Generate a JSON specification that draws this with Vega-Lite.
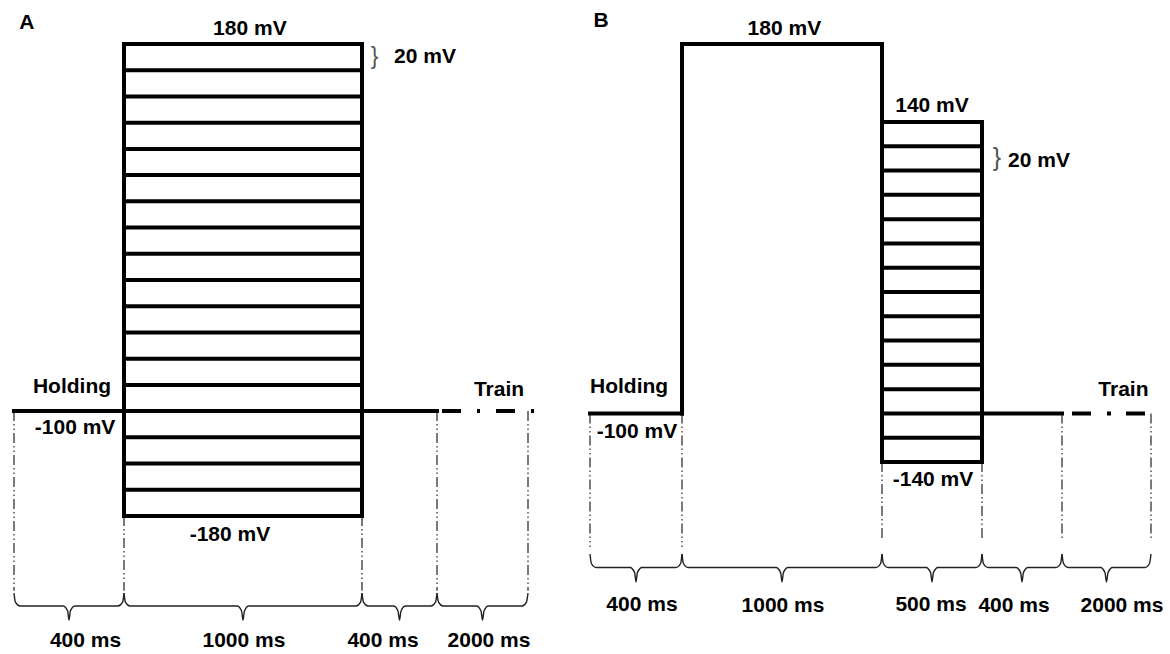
{
  "$schema": "https://vega.github.io/schema/vega-lite/v6.json",
  "padding": 0,
  "spacing": 0,
  "bounds": "flush",
  "background": "white",
  "config": {"view": {"stroke": null}},
  "datasets": {
    "A_solid": [
      {"t": 0, "t2": 400, "v": -100, "v2": -100},
      {"t": 1400, "t2": 1800, "v": -100, "v2": -100},
      {"t": 400, "t2": 400, "v": -180, "v2": 180},
      {"t": 1400, "t2": 1400, "v": -180, "v2": 180},
      {"t": 400, "t2": 1400, "v": 180, "v2": 180},
      {"t": 400, "t2": 1400, "v": 160, "v2": 160},
      {"t": 400, "t2": 1400, "v": 140, "v2": 140},
      {"t": 400, "t2": 1400, "v": 120, "v2": 120},
      {"t": 400, "t2": 1400, "v": 100, "v2": 100},
      {"t": 400, "t2": 1400, "v": 80, "v2": 80},
      {"t": 400, "t2": 1400, "v": 60, "v2": 60},
      {"t": 400, "t2": 1400, "v": 40, "v2": 40},
      {"t": 400, "t2": 1400, "v": 20, "v2": 20},
      {"t": 400, "t2": 1400, "v": 0, "v2": 0},
      {"t": 400, "t2": 1400, "v": -20, "v2": -20},
      {"t": 400, "t2": 1400, "v": -40, "v2": -40},
      {"t": 400, "t2": 1400, "v": -60, "v2": -60},
      {"t": 400, "t2": 1400, "v": -80, "v2": -80},
      {"t": 400, "t2": 1400, "v": -100, "v2": -100},
      {"t": 400, "t2": 1400, "v": -120, "v2": -120},
      {"t": 400, "t2": 1400, "v": -140, "v2": -140},
      {"t": 400, "t2": 1400, "v": -160, "v2": -160},
      {"t": 400, "t2": 1400, "v": -180, "v2": -180}
    ],
    "A_train": [{"t": 1800, "t2": 3932, "v": -100, "v2": -100}],
    "A_guides": [
      {"t": 0, "t2": 0, "v": -100, "v2": -237},
      {"t": 400, "t2": 400, "v": -180, "v2": -237},
      {"t": 1400, "t2": 1400, "v": -180, "v2": -237},
      {"t": 1800, "t2": 1800, "v": -100, "v2": -237},
      {"t": 3800, "t2": 3800, "v": -100, "v2": -237}
    ],
    "A_braces": [
      {"id": 1, "t": 0, "v": -238.8}, {"id": 1, "t": 5, "v": -245.7}, {"id": 1, "t": 22, "v": -248.7}, {"id": 1, "t": 178, "v": -248.7}, {"id": 1, "t": 195, "v": -252.4}, {"id": 1, "t": 200, "v": -259.4}, {"id": 1, "t": 205, "v": -252.4}, {"id": 1, "t": 222, "v": -248.7}, {"id": 1, "t": 378, "v": -248.7}, {"id": 1, "t": 395, "v": -245.7}, {"id": 1, "t": 400, "v": -238.8},
      {"id": 2, "t": 400, "v": -238.8}, {"id": 2, "t": 406, "v": -245.7}, {"id": 2, "t": 425, "v": -248.7}, {"id": 2, "t": 875, "v": -248.7}, {"id": 2, "t": 894, "v": -252.4}, {"id": 2, "t": 900, "v": -259.4}, {"id": 2, "t": 906, "v": -252.4}, {"id": 2, "t": 925, "v": -248.7}, {"id": 2, "t": 1375, "v": -248.7}, {"id": 2, "t": 1394, "v": -245.7}, {"id": 2, "t": 1400, "v": -238.8},
      {"id": 3, "t": 1400, "v": -238.8}, {"id": 3, "t": 1408, "v": -245.7}, {"id": 3, "t": 1432, "v": -248.7}, {"id": 3, "t": 1568, "v": -248.7}, {"id": 3, "t": 1592, "v": -252.4}, {"id": 3, "t": 1600, "v": -259.4}, {"id": 3, "t": 1608, "v": -252.4}, {"id": 3, "t": 1632, "v": -248.7}, {"id": 3, "t": 1768, "v": -248.7}, {"id": 3, "t": 1792, "v": -245.7}, {"id": 3, "t": 1800, "v": -238.8},
      {"id": 4, "t": 1800, "v": -238.8}, {"id": 4, "t": 1833, "v": -245.7}, {"id": 4, "t": 1932, "v": -248.7}, {"id": 4, "t": 2668, "v": -248.7}, {"id": 4, "t": 2767, "v": -252.4}, {"id": 4, "t": 2800, "v": -259.4}, {"id": 4, "t": 2833, "v": -252.4}, {"id": 4, "t": 2932, "v": -248.7}, {"id": 4, "t": 3668, "v": -248.7}, {"id": 4, "t": 3767, "v": -245.7}, {"id": 4, "t": 3800, "v": -238.8}
    ],
    "A_labels": [
      {"t": 47, "v": 196, "label": "A"},
      {"t": 929, "v": 191.4, "label": "180 mV"},
      {"t": 1736, "v": 170, "label": "20 mV"},
      {"t": 211, "v": -81.6, "label": "Holding"},
      {"t": 222, "v": -112.9, "label": "-100 mV"},
      {"t": 845, "v": -194.5, "label": "-180 mV"},
      {"t": 3163, "v": -83.9, "label": "Train"},
      {"t": 260, "v": -275.5, "label": "400 ms"},
      {"t": 904, "v": -275.5, "label": "1000 ms"},
      {"t": 1512, "v": -275.5, "label": "400 ms"},
      {"t": 2943, "v": -275.5, "label": "2000 ms"}
    ],
    "A_bracket": [{"t": 1467, "v": 170, "label": "}"}],
    "B_solid": [
      {"t": 0, "t2": 400, "v": -100, "v2": -100},
      {"t": 400, "t2": 400, "v": -100, "v2": 180},
      {"t": 400, "t2": 1400, "v": 180, "v2": 180},
      {"t": 1400, "t2": 1400, "v": 180, "v2": -140},
      {"t": 1900, "t2": 1900, "v": 140, "v2": -140},
      {"t": 1900, "t2": 2300, "v": -100, "v2": -100},
      {"t": 1400, "t2": 1900, "v": 140, "v2": 140},
      {"t": 1400, "t2": 1900, "v": 120, "v2": 120},
      {"t": 1400, "t2": 1900, "v": 100, "v2": 100},
      {"t": 1400, "t2": 1900, "v": 80, "v2": 80},
      {"t": 1400, "t2": 1900, "v": 60, "v2": 60},
      {"t": 1400, "t2": 1900, "v": 40, "v2": 40},
      {"t": 1400, "t2": 1900, "v": 20, "v2": 20},
      {"t": 1400, "t2": 1900, "v": 0, "v2": 0},
      {"t": 1400, "t2": 1900, "v": -20, "v2": -20},
      {"t": 1400, "t2": 1900, "v": -40, "v2": -40},
      {"t": 1400, "t2": 1900, "v": -60, "v2": -60},
      {"t": 1400, "t2": 1900, "v": -80, "v2": -80},
      {"t": 1400, "t2": 1900, "v": -100, "v2": -100},
      {"t": 1400, "t2": 1900, "v": -120, "v2": -120},
      {"t": 1400, "t2": 1900, "v": -140, "v2": -140}
    ],
    "B_train": [{"t": 2300, "t2": 4165, "v": -100, "v2": -100}],
    "B_guides": [
      {"t": 0, "t2": 0, "v": -100, "v2": -210},
      {"t": 400, "t2": 400, "v": -100, "v2": -210},
      {"t": 1400, "t2": 1400, "v": -140, "v2": -203},
      {"t": 1900, "t2": 1900, "v": -140, "v2": -203},
      {"t": 2300, "t2": 2300, "v": -100, "v2": -203},
      {"t": 4300, "t2": 4300, "v": -100, "v2": -203}
    ],
    "B_braces": [
      {"id": 1, "t": 0, "v": -215.8}, {"id": 1, "t": 6, "v": -223.6}, {"id": 1, "t": 26, "v": -226.9}, {"id": 1, "t": 174, "v": -226.9}, {"id": 1, "t": 194, "v": -231.1}, {"id": 1, "t": 200, "v": -238.8}, {"id": 1, "t": 206, "v": -231.1}, {"id": 1, "t": 226, "v": -226.9}, {"id": 1, "t": 374, "v": -226.9}, {"id": 1, "t": 394, "v": -223.6}, {"id": 1, "t": 400, "v": -215.8},
      {"id": 2, "t": 400, "v": -215.8}, {"id": 2, "t": 407, "v": -223.6}, {"id": 2, "t": 430, "v": -226.9}, {"id": 2, "t": 870, "v": -226.9}, {"id": 2, "t": 893, "v": -231.1}, {"id": 2, "t": 900, "v": -238.8}, {"id": 2, "t": 907, "v": -231.1}, {"id": 2, "t": 930, "v": -226.9}, {"id": 2, "t": 1370, "v": -226.9}, {"id": 2, "t": 1393, "v": -223.6}, {"id": 2, "t": 1400, "v": -215.8},
      {"id": 3, "t": 1400, "v": -215.8}, {"id": 3, "t": 1407, "v": -223.6}, {"id": 3, "t": 1430, "v": -226.9}, {"id": 3, "t": 1620, "v": -226.9}, {"id": 3, "t": 1643, "v": -231.1}, {"id": 3, "t": 1650, "v": -238.8}, {"id": 3, "t": 1657, "v": -231.1}, {"id": 3, "t": 1680, "v": -226.9}, {"id": 3, "t": 1870, "v": -226.9}, {"id": 3, "t": 1893, "v": -223.6}, {"id": 3, "t": 1900, "v": -215.8},
      {"id": 4, "t": 1900, "v": -215.8}, {"id": 4, "t": 1907, "v": -223.6}, {"id": 4, "t": 1930, "v": -226.9}, {"id": 4, "t": 2070, "v": -226.9}, {"id": 4, "t": 2093, "v": -231.1}, {"id": 4, "t": 2100, "v": -238.8}, {"id": 4, "t": 2107, "v": -231.1}, {"id": 4, "t": 2130, "v": -226.9}, {"id": 4, "t": 2270, "v": -226.9}, {"id": 4, "t": 2293, "v": -223.6}, {"id": 4, "t": 2300, "v": -215.8},
      {"id": 5, "t": 2300, "v": -215.8}, {"id": 5, "t": 2334, "v": -223.6}, {"id": 5, "t": 2435, "v": -226.9}, {"id": 5, "t": 3165, "v": -226.9}, {"id": 5, "t": 3266, "v": -231.1}, {"id": 5, "t": 3300, "v": -238.8}, {"id": 5, "t": 3334, "v": -231.1}, {"id": 5, "t": 3435, "v": -226.9}, {"id": 5, "t": 4165, "v": -226.9}, {"id": 5, "t": 4266, "v": -223.6}, {"id": 5, "t": 4300, "v": -215.8}
    ],
    "B_labels": [
      {"t": 48, "v": 191.8, "label": "B"},
      {"t": 912, "v": 187.7, "label": "180 mV"},
      {"t": 1650, "v": 148.2, "label": "140 mV"},
      {"t": 2185, "v": 108, "label": "20 mV"},
      {"t": 170, "v": -78.2, "label": "Holding"},
      {"t": 204, "v": -115.3, "label": "-100 mV"},
      {"t": 1655, "v": -154.8, "label": "-140 mV"},
      {"t": 3680, "v": -80.7, "label": "Train"},
      {"t": 226, "v": -258, "label": "400 ms"},
      {"t": 905, "v": -258.6, "label": "1000 ms"},
      {"t": 1645, "v": -257.4, "label": "500 ms"},
      {"t": 2060, "v": -258.6, "label": "400 ms"},
      {"t": 3648, "v": -258.6, "label": "2000 ms"}
    ],
    "B_bracket": [{"t": 1975, "v": 110, "label": "}"}]
  },
  "hconcat": [
    {
      "width": 580,
      "height": 654,
      "encoding": {
        "x": {"field": "t", "type": "quantitative", "axis": null,
              "scale": {"domain": [0, 400, 1400, 1800, 3800], "range": [14, 124, 362, 437, 528], "nice": false, "zero": false}},
        "y": {"field": "v", "type": "quantitative", "axis": null,
              "scale": {"domain": [-180, 180], "range": [516, 44], "nice": false, "zero": false}}
      },
      "layer": [
        {
          "data": {"name": "A_guides"},
          "mark": {"type": "rule", "strokeWidth": 1.2, "color": "#222", "strokeDash": [10, 3, 1.5, 3, 1.5, 3]},
          "encoding": {"x2": {"field": "t2"}, "y2": {"field": "v2"}}
        },
        {
          "data": {"name": "A_solid"},
          "mark": {"type": "rule", "strokeWidth": 4, "color": "black", "strokeCap": "square"},
          "encoding": {"x2": {"field": "t2"}, "y2": {"field": "v2"}}
        },
        {
          "data": {"name": "A_train"},
          "mark": {"type": "rule", "strokeWidth": 4, "color": "black", "strokeDash": [19, 16, 3, 16], "strokeDashOffset": 49},
          "encoding": {"x2": {"field": "t2"}, "y2": {"field": "v2"}}
        },
        {
          "data": {"name": "A_braces"},
          "mark": {"type": "line", "interpolate": "monotone", "strokeWidth": 1.4, "color": "#222"},
          "encoding": {"detail": {"field": "id"}}
        },
        {
          "data": {"name": "A_labels"},
          "mark": {"type": "text", "font": "Liberation Sans", "fontWeight": "bold", "fontSize": 21, "color": "black", "align": "center", "baseline": "middle"},
          "encoding": {"text": {"field": "label"}}
        },
        {
          "data": {"name": "A_bracket"},
          "mark": {"type": "text", "font": "Liberation Sans", "fontWeight": "normal", "fontSize": 23, "color": "#555", "align": "center", "baseline": "middle"},
          "encoding": {"text": {"field": "label"}}
        }
      ]
    },
    {
      "width": 590,
      "height": 654,
      "encoding": {
        "x": {"field": "t", "type": "quantitative", "axis": null,
              "scale": {"domain": [0, 400, 1400, 1900, 2300, 4300], "range": [10, 102, 302, 402, 482, 571], "nice": false, "zero": false}},
        "y": {"field": "v", "type": "quantitative", "axis": null,
              "scale": {"domain": [-140, 140, 180], "range": [462, 122, 44], "nice": false, "zero": false}}
      },
      "layer": [
        {
          "data": {"name": "B_guides"},
          "mark": {"type": "rule", "strokeWidth": 1.2, "color": "#222", "strokeDash": [10, 3, 1.5, 3, 1.5, 3]},
          "encoding": {"x2": {"field": "t2"}, "y2": {"field": "v2"}}
        },
        {
          "data": {"name": "B_solid"},
          "mark": {"type": "rule", "strokeWidth": 4, "color": "black", "strokeCap": "square"},
          "encoding": {"x2": {"field": "t2"}, "y2": {"field": "v2"}}
        },
        {
          "data": {"name": "B_train"},
          "mark": {"type": "rule", "strokeWidth": 4, "color": "black", "strokeDash": [19, 16, 4, 15], "strokeDashOffset": 44},
          "encoding": {"x2": {"field": "t2"}, "y2": {"field": "v2"}}
        },
        {
          "data": {"name": "B_braces"},
          "mark": {"type": "line", "interpolate": "monotone", "strokeWidth": 1.4, "color": "#222"},
          "encoding": {"detail": {"field": "id"}}
        },
        {
          "data": {"name": "B_labels"},
          "mark": {"type": "text", "font": "Liberation Sans", "fontWeight": "bold", "fontSize": 21, "color": "black", "align": "center", "baseline": "middle"},
          "encoding": {"text": {"field": "label"}}
        },
        {
          "data": {"name": "B_bracket"},
          "mark": {"type": "text", "font": "Liberation Sans", "fontWeight": "normal", "fontSize": 25, "color": "#555", "align": "center", "baseline": "middle"},
          "encoding": {"text": {"field": "label"}}
        }
      ]
    }
  ]
}
